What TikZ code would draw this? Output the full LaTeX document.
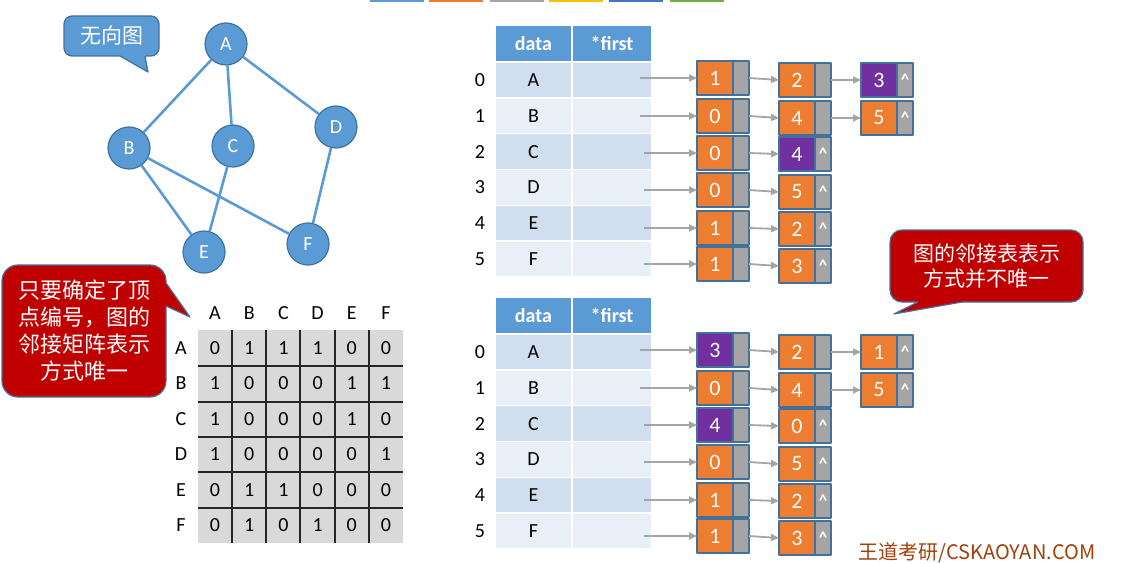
\documentclass[tikz,border=0pt]{standalone}
\usepackage{fontspec}
\setmainfont{Carlito}
\newfontfamily\cjk{Noto Sans CJK SC}
\usetikzlibrary{arrows.meta}

\definecolor{ppblue}{HTML}{5B9BD5}
\definecolor{ppline}{HTML}{41719C}
\definecolor{pporange}{HTML}{ED7D31}
\definecolor{pppurple}{HTML}{7030A0}
\definecolor{ppgray}{HTML}{A5A5A5}
\definecolor{ppyellow}{HTML}{FFC000}
\definecolor{ppdblue}{HTML}{4472C4}
\definecolor{ppgreen}{HTML}{70AD47}
\definecolor{rowdark}{HTML}{D0DEEF}
\definecolor{rowlight}{HTML}{E9EFF7}
\definecolor{matgray}{HTML}{D9D9D9}
\definecolor{callred}{HTML}{C00000}
\definecolor{footbrown}{HTML}{A0400A}

\tikzset{
  vtx/.style={circle, draw=ppline, line width=1.2pt, fill=ppblue, minimum size=42pt, inner sep=0pt, text=white, font=\fontsize{20}{24}\selectfont},
  edg/.style={ppblue, line width=2.6pt},
  bubble/.style={draw=ppline, line width=1.2pt, rounded corners=8pt, text=white, align=center, inner sep=0pt},
  hdr/.style={fill=ppblue, text=white, font=\fontsize{20}{24}\selectfont\bfseries, minimum height=35pt, inner sep=0pt},
  cel/.style={minimum height=34.5pt, inner sep=0pt, font=\fontsize{20}{24}\selectfont},
  mtxt/.style={inner sep=0pt, font=\fontsize{20}{24}\selectfont},
  datbox/.style={draw=ppline, line width=1.3pt, outer sep=0pt, minimum width=36pt, minimum height=34pt, inner sep=0pt, text=white, font=\fontsize{22}{26}\selectfont},
  ptrbox/.style={draw=ppline, line width=1.3pt, outer sep=0pt, fill=ppgray, minimum width=16pt, minimum height=34pt, inner sep=0pt, text=white, font=\fontsize{17}{20}\selectfont\bfseries},
  lnk/.style={-{Triangle[length=8pt,width=7pt]}, ppgray, line width=1.8pt},
}

% one cell of an edge list: name, x, y, value, colour, pointer text
\newcommand{\lcell}[6]{%
  \node[datbox, fill=#5] (#1) at (#2,#3) {#4};
  \node[ptrbox, anchor=west] (#1p) at (#1.east) {#6};}
\def\nul{\textasciicircum}

\begin{document}
\begin{tikzpicture}[x=1pt, y=-1pt, line join=round, >=Stealth]
\useasboundingbox (0,0) rectangle (1142,564);

% slide colour strip
\foreach \x/\c in {370/ppblue,429/pporange,490/ppgray,549/ppyellow,609/ppdblue,670/ppgreen}
  \fill[\c] (\x,0) rectangle ++(54,2.5);

% undirected graph
\node[vtx] (A) at (226,44) {A};
\node[vtx] (B) at (129,148) {B};
\node[vtx] (C) at (233,146) {C};
\node[vtx] (D) at (336,127) {D};
\node[vtx] (E) at (204,252) {E};
\node[vtx] (F) at (308,244) {F};
\foreach \u/\v in {A/B,A/C,A/D,B/E,B/F,C/E,D/F} \draw[edg] (\u) -- (\v);

% callouts
\node[bubble, fill=ppblue, minimum width=95pt, minimum height=40pt, font=\cjk\fontsize{21}{25}\selectfont] (undir) at (111.5,36) {无向图};
\fill[ppblue] (120,53) -- (120,56) -- (148,72) -- (145,56) -- (145,53) -- cycle;
\draw[ppline, line width=1.2pt] (120,56) -- (148,72) -- (145,56);

\node[bubble, fill=callred, rounded corners=16pt, minimum width=164pt, minimum height=132pt, font=\cjk\fontsize{22}{27}\selectfont] (note1) at (84,331) {只要确定了顶\\点编号，图的\\邻接矩阵表示\\方式唯一};
\fill[callred] (163,283) -- (166,283) -- (190,317) -- (166,306) -- (163,306) -- cycle;
\draw[ppline, line width=1.2pt] (166,283) -- (190,317) -- (166,306);

\node[bubble, fill=callred, rounded corners=12pt, minimum width=193pt, minimum height=72pt, font=\cjk\fontsize{21}{25}\selectfont] (note2) at (986.5,266) {图的邻接表表示\\方式并不唯一};
\fill[callred] (918,299) -- (918,302) -- (894,314) -- (962,302) -- (962,299) -- cycle;
\draw[ppline, line width=1.2pt] (918,302) -- (894,314) -- (962,302);

% adjacency matrix
\fill[matgray] (198,330) rectangle (403,543);
\foreach \x in {232,266,300,335,369} \draw[black!85, line width=1.5pt] (\x,330) -- (\x,543);
\foreach \y in {366,402,437,472,508} \draw[black!85, line width=1.5pt] (198,\y) -- (403,\y);
\foreach \lab [count=\k from 0] in {A,...,F} {
  \node[mtxt] (col\lab) at (215+34.2*\k,313) {\lab};
  \node[mtxt] (row\lab) at (181,348+35.5*\k) {\lab};
}
\foreach \vals [count=\r from 0] in {{0,1,1,1,0,0},{1,0,0,0,1,1},{1,0,0,0,1,0},{1,0,0,0,0,1},{0,1,1,0,0,0},{0,1,0,1,0,0}}
  \foreach \v [count=\c from 0] in \vals
    \node[mtxt] (m\r\c) at (215+34.2*\c,348+35.5*\r) {\v};

% vertex tables
\foreach \dy/\p in {0/t,272/b} {
  \node[hdr, minimum width=75pt] (\p hd) at (533.5,43.5+\dy) {data};
  \node[hdr, minimum width=78pt] (\p hf) at (612,43.5+\dy) {*first};
  \foreach \lab [count=\k from 0] in {A,...,F} {
    \ifodd\k \def\rowc{rowlight}\else\def\rowc{rowdark}\fi
    \node[cel, fill=\rowc, minimum width=75pt] (\p d\k) at (533.5,80+35.8*\k+\dy) {\lab};
    \node[cel, fill=\rowc, minimum width=78pt] (\p f\k) at (612,80+35.8*\k+\dy) {};
    \node[cel] (\p i\k) at (480,80+35.8*\k+\dy) {\k};
  }
}

% edge lists, first version
\lcell{t00}{715}{78}{1}{pporange}{}
\lcell{t01}{797}{80}{2}{pporange}{}
\lcell{t02}{879}{80}{3}{pppurple}{\nul}
\lcell{t10}{715}{116}{0}{pporange}{}
\lcell{t11}{797}{118}{4}{pporange}{}
\lcell{t12}{879}{118}{5}{pporange}{\nul}
\lcell{t20}{715}{153}{0}{pporange}{}
\lcell{t21}{797}{154}{4}{pppurple}{\nul}
\lcell{t30}{715}{190}{0}{pporange}{}
\lcell{t31}{797}{192}{5}{pporange}{\nul}
\lcell{t40}{715}{228}{1}{pporange}{}
\lcell{t41}{797}{229}{2}{pporange}{\nul}
\lcell{t50}{715}{264}{1}{pporange}{}
\lcell{t51}{797}{266}{3}{pporange}{\nul}

% edge lists, second version
\lcell{b00}{715}{350}{3}{pppurple}{}
\lcell{b01}{797}{352}{2}{pporange}{}
\lcell{b02}{879}{352}{1}{pporange}{\nul}
\lcell{b10}{715}{388}{0}{pporange}{}
\lcell{b11}{797}{390}{4}{pporange}{}
\lcell{b12}{879}{390}{5}{pporange}{\nul}
\lcell{b20}{715}{425}{4}{pppurple}{}
\lcell{b21}{797}{426}{0}{pporange}{\nul}
\lcell{b30}{715}{462}{0}{pporange}{}
\lcell{b31}{797}{464}{5}{pporange}{\nul}
\lcell{b40}{715}{500}{1}{pporange}{}
\lcell{b41}{797}{501}{2}{pporange}{\nul}
\lcell{b50}{715}{536}{1}{pporange}{}
\lcell{b51}{797}{538}{3}{pporange}{\nul}

% links
\foreach \p in {t,b} {
  \foreach \r in {0,...,5} {
    \ifnum\r<2 \def\sx{640}\else\def\sx{644}\fi
    \coordinate (\p s\r) at (\sx,0 |- \p\r0.center);
    \draw[lnk] (\p s\r) -- (\p\r0.west);
    \draw[lnk] (\p\r0p.east) -- (\p\r1.west);
  }
  \draw[lnk] (\p01p.east) -- (\p02.west);
  \draw[lnk] (\p11p.east) -- (\p12.west);
}

\node[font=\cjk\fontsize{20}{23}\selectfont, text=footbrown] (foot) at (977,553) {王道考研/CSKAOYAN.COM};
\end{tikzpicture}
\end{document}
